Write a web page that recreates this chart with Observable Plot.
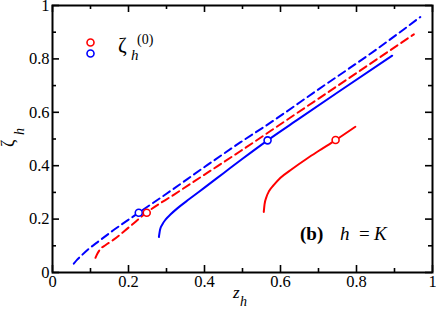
<!DOCTYPE html>
<html>
<head>
<meta charset="utf-8">
<script src="https://cdn.jsdelivr.net/npm/d3@7"></script>
<script src="https://cdn.jsdelivr.net/npm/@observablehq/plot@0.6"></script>
<style>
  html, body { margin: 0; padding: 0; background: #fff; }
  #chart { width: 436px; height: 309px; }
  #chart svg, #chart svg text, #chart svg tspan { font-family: "Liberation Serif", serif !important; }
</style>
</head>
<body>
<div id="chart"></div>
<script>
// ---- data ----
const majorTicks = [0, 0.2, 0.4, 0.6, 0.8, 1];
const minorTicks = [0.1, 0.3, 0.5, 0.7, 0.9];
const tickLabels = ["0", "0.2", "0.4", "0.6", "0.8", "1"];

const blueDashedX = [0.056, 0.065, 0.078, 0.095, 0.118, 0.16, 0.227, 0.30, 0.407, 0.495, 0.565, 0.70, 0.85, 0.968];
const blueDashedY = [0.033, 0.048, 0.066, 0.088, 0.113, 0.158, 0.224, 0.295, 0.402, 0.488, 0.553, 0.686, 0.833, 0.957];

const redDashedX = [0.113, 0.118, 0.126, 0.14, 0.16, 0.20, 0.248, 0.32, 0.407, 0.495, 0.609, 0.75, 0.951];
const redDashedY = [0.055, 0.070, 0.088, 0.103, 0.122, 0.168, 0.225, 0.292, 0.373, 0.455, 0.564, 0.699, 0.892];

const blueSolidX = [0.280, 0.283, 0.289, 0.298, 0.311, 0.330, 0.360, 0.400, 0.450, 0.500, 0.566, 0.650, 0.750, 0.894];
const blueSolidY = [0.133, 0.160, 0.180, 0.199, 0.218, 0.242, 0.275, 0.318, 0.372, 0.426, 0.495, 0.577, 0.674, 0.812];

const redSolidX = [0.556, 0.558, 0.563, 0.570, 0.582, 0.600, 0.626, 0.670, 0.700, 0.745, 0.797];
const redSolidY = [0.227, 0.255, 0.283, 0.305, 0.327, 0.355, 0.383, 0.427, 0.455, 0.496, 0.546];

const zeta0RedX = [0.248, 0.745];
const zeta0RedY = [0.224, 0.496];
const zeta0BlueX = [0.227, 0.566];
const zeta0BlueY = [0.224, 0.495];

const legendLabel = ["ζ", "h", "(0)"];
const xLabel = ["z", "h"];
const yLabel = ["ζ", "h"];
const panelLabel = ["(b)", "h", "=", "K"];

const RED = "#ff0000", BLUE = "#0000ff";

const toRows = (xs, ys) => xs.map((x, i) => ({x, y: ys[i]}));
const fmt = d => tickLabels[majorTicks.indexOf(d)];

const W = 436, H = 309;
const mL = 52, mR = 4, mT = 5, mB = 37;
const innerW = W - mL - mR, innerH = H - mT - mB;
const major = 7, minor = 4;
const FONT = "Liberation Serif";

const tickStyle = {stroke: "black", strokeWidth: 1.6};

const plot = Plot.plot({
  width: W, height: H,
  marginLeft: mL, marginRight: mR, marginTop: mT, marginBottom: mB,
  style: "font-family: 'Liberation Serif', serif; font-size: 16px; background: white; color: black; overflow: visible;",
  x: {domain: [0, 1], label: null},
  y: {domain: [0, 1], label: null},
  marks: [
    // curves
    Plot.line(toRows(blueDashedX, blueDashedY), {x: "x", y: "y", stroke: BLUE, strokeWidth: 2, strokeDasharray: "8,4.5", curve: "monotone-x"}),
    Plot.line(toRows(redDashedX, redDashedY), {x: "x", y: "y", stroke: RED, strokeWidth: 2, strokeDasharray: "8,4.5", curve: "monotone-x"}),
    Plot.line(toRows(blueSolidX, blueSolidY), {x: "x", y: "y", stroke: BLUE, strokeWidth: 2, curve: "monotone-x"}),
    Plot.line(toRows(redSolidX, redSolidY), {x: "x", y: "y", stroke: RED, strokeWidth: 2, curve: "monotone-x"}),
    // markers
    Plot.dot(toRows(zeta0BlueX, zeta0BlueY), {x: "x", y: "y", r: 3.5, stroke: BLUE, strokeWidth: 1.6, fill: "white"}),
    Plot.dot(toRows(zeta0RedX, zeta0RedY), {x: "x", y: "y", r: 3.5, stroke: RED, strokeWidth: 1.6, fill: "white"}),
    // legend markers
    Plot.dot([RED], {frameAnchor: "top-left", dx: 38, dy: 37, r: 3.5, stroke: d => d, strokeWidth: 1.6, fill: "white"}),
    Plot.dot([BLUE], {frameAnchor: "top-left", dx: 38, dy: 48, r: 3.5, stroke: d => d, strokeWidth: 1.6, fill: "white"}),
    // inward ticks, all four sides
    Plot.ruleX(majorTicks, {x: d => d, insetTop: innerH - major, ...tickStyle}),
    Plot.ruleX(minorTicks, {x: d => d, insetTop: innerH - minor, ...tickStyle}),
    Plot.ruleX(majorTicks, {x: d => d, insetBottom: innerH - major, ...tickStyle}),
    Plot.ruleX(minorTicks, {x: d => d, insetBottom: innerH - minor, ...tickStyle}),
    Plot.ruleY(majorTicks, {y: d => d, insetRight: innerW - major, ...tickStyle}),
    Plot.ruleY(minorTicks, {y: d => d, insetRight: innerW - minor, ...tickStyle}),
    Plot.ruleY(majorTicks, {y: d => d, insetLeft: innerW - major, ...tickStyle}),
    Plot.ruleY(minorTicks, {y: d => d, insetLeft: innerW - minor, ...tickStyle}),
    Plot.frame({stroke: "black", strokeWidth: 2}),
    // tick labels
    Plot.axisX(majorTicks, {tickSize: 0, tickPadding: 3, fontSize: 16.5, fontFamily: FONT, tickFormat: fmt, label: null}),
    Plot.axisY(majorTicks, {tickSize: 0, tickPadding: 3, fontSize: 16.5, fontFamily: FONT, tickFormat: fmt, label: null})
  ]
});

document.getElementById("chart").appendChild(plot);

// rich text labels (subscripts / superscripts)
const svg = d3.select(plot);
function txt(g, x, y, s, size, opts = {}) {
  return g.append("text")
    .attr("x", x).attr("y", y)
    .attr("font-family", FONT)
    .attr("font-size", size)
    .attr("font-style", opts.italic ? "italic" : "normal")
    .attr("font-weight", opts.bold ? "bold" : "normal")
    .attr("fill", "black")
    .attr("text-anchor", "start")
    .text(s);
}
const g = svg.append("g").attr("text-anchor", "start");
// legend
txt(g, 118, 52, legendLabel[0], 21);
txt(g, 131, 60, legendLabel[1], 15, {italic: true});
txt(g, 137, 44, legendLabel[2], 14);
// x label
txt(g, 233, 298, xLabel[0], 17, {italic: true});
txt(g, 240, 306, xLabel[1], 14, {italic: true});
// y label (rotated)
const gy = svg.append("g").attr("text-anchor", "start").attr("transform", "translate(13.5,147) rotate(-90)");
txt(gy, 0, 0, yLabel[0], 18);
txt(gy, 12, 10, yLabel[1], 14, {italic: true});
// panel annotation
txt(g, 300, 240, panelLabel[0], 19, {bold: true});
txt(g, 340, 240, panelLabel[1], 19, {italic: true});
txt(g, 359, 240, panelLabel[2], 19);
txt(g, 374, 240, panelLabel[3], 19, {italic: true});
</script>
</body>
</html>
